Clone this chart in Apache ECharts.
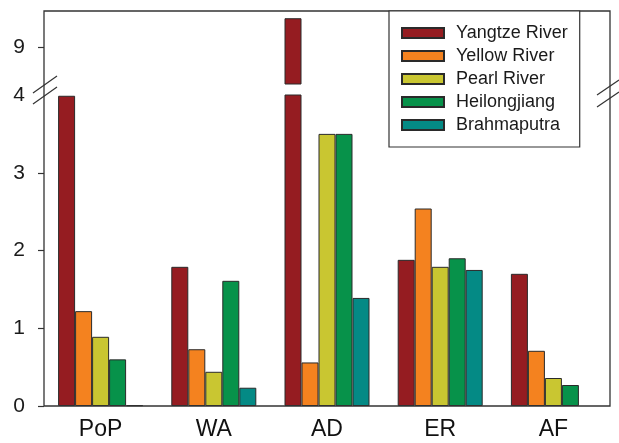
<!DOCTYPE html>
<html>
<head>
<meta charset="utf-8">
<script src="https://cdn.jsdelivr.net/npm/echarts@6/dist/echarts.min.js"></script>
<style>
  html, body { margin: 0; padding: 0; background: #fff; }
  #chart { width: 619px; height: 443px; }
</style>
</head>
<body>
<div id="chart"></div>
<script>
// data
const categories = ['PoP', 'WA', 'AD', 'ER', 'AF'];
const riverNames = ['Yangtze River', 'Yellow River', 'Pearl River', 'Heilongjiang', 'Brahmaputra'];
const yangtze = [3.99, 1.79, 9.37, 1.88, 1.70];
const yellowRiver = [1.22, 0.73, 0.56, 2.54, 0.71];
const pearl = [0.89, 0.44, 3.50, 1.79, 0.36];
const heilongjiang = [0.60, 1.61, 3.50, 1.90, 0.27];
const brahmaputra = [0.01, 0.235, 1.39, 1.75, null];
const lowerTicks = [0, 1, 2, 3, 4];
const upperTicks = [9];

const riverValues = [yangtze, yellowRiver, pearl, heilongjiang, brahmaputra];
const colors = ['#951c21', '#f4821f', '#c9c631', '#07924a', '#048a85'];

// layout (px)
const W = 619, H = 443;
const plotL = 44, plotR = 610, plotT = 11, plotB = 406;
const lowerTop = 95, upperBottom = 84, y9 = 47;
const pxPerUnit = (plotB - lowerTop) / 4;
const upperMin = 9 - (upperBottom - y9) / pxPerUnit;
const upperMax = 9 + (y9 - plotT) / pxPerUnit;

const font = 'Liberation Sans';
const ink = '#333';

const series = [];
riverValues.forEach(function (vals, i) {
  const style = { color: colors[i], borderColor: '#2a2a2a', borderWidth: 1 };
  series.push({
    name: riverNames[i], type: 'bar', xAxisIndex: 0, yAxisIndex: 0,
    barWidth: 17, barGap: '0%', clip: true, itemStyle: style,
    data: vals.map(v => v == null ? '-' : v)
  });
  series.push({
    name: riverNames[i], type: 'bar', xAxisIndex: 1, yAxisIndex: 1,
    barWidth: 17, barGap: '0%', clip: true, itemStyle: style,
    data: vals.map(v => (v != null && v > upperMin) ? v : '-')
  });
});

const chart = echarts.init(document.getElementById('chart'));
chart.setOption({
  animation: false,
  textStyle: { fontFamily: font },
  legend: {
    data: riverNames,
    orient: 'vertical',
    left: 389, top: plotT,
    padding: [13, 12, 13, 12],
    icon: 'rect',
    itemWidth: 42, itemHeight: 10, itemGap: 5,
    backgroundColor: '#fff',
    borderColor: ink, borderWidth: 1.2,
    textStyle: { fontSize: 18, lineHeight: 18, color: '#1a1a1a', fontFamily: font, padding: [0, 0, 0, 7] },
    z: 20
  },
  grid: [
    { left: plotL, right: W - plotR, top: lowerTop, bottom: H - plotB },
    { left: plotL, right: W - plotR, top: plotT, height: upperBottom - plotT }
  ],
  xAxis: [
    {
      type: 'category', gridIndex: 0, data: categories,
      axisLine: { show: false }, axisTick: { show: false },
      axisLabel: { fontSize: 23, margin: 12, color: '#111', fontFamily: font }
    },
    {
      type: 'category', gridIndex: 1, data: categories, show: false
    }
  ],
  yAxis: [
    {
      type: 'value', gridIndex: 0, min: 0, max: 4, interval: 1,
      splitLine: { show: false },
      axisLine: { show: false },
      axisTick: { show: true, length: 6, customValues: lowerTicks.slice(0, 4), lineStyle: { color: ink, width: 1.2 } },
      axisLabel: { fontSize: 21, margin: 19, color: '#1a1a1a', fontFamily: font, customValues: lowerTicks }
    },
    {
      type: 'value', gridIndex: 1, min: upperMin, max: upperMax,
      splitLine: { show: false },
      axisLine: { show: false },
      axisTick: { show: true, length: 6, customValues: upperTicks, lineStyle: { color: ink, width: 1.2 } },
      axisLabel: { fontSize: 21, margin: 19, color: '#1a1a1a', fontFamily: font, customValues: upperTicks }
    }
  ],
  graphic: [
    {
      type: 'rect', z: 10, silent: true,
      shape: { x: plotL, y: plotT, width: plotR - plotL, height: plotB - plotT },
      style: { fill: 'none', stroke: ink, lineWidth: 1.3 }
    },
    // break marks on left axis
    { type: 'line', z: 11, silent: true, shape: { x1: 33, y1: 93, x2: 57, y2: 76 }, style: { stroke: ink, lineWidth: 1.2 } },
    { type: 'line', z: 11, silent: true, shape: { x1: 33, y1: 104, x2: 57, y2: 87 }, style: { stroke: ink, lineWidth: 1.2 } },
    // break marks on right border
    { type: 'line', z: 11, silent: true, shape: { x1: 597, y1: 95, x2: 619, y2: 80 }, style: { stroke: ink, lineWidth: 1.2 } },
    { type: 'line', z: 11, silent: true, shape: { x1: 597, y1: 107, x2: 619, y2: 92 }, style: { stroke: ink, lineWidth: 1.2 } }
  ],
  series: series
});
</script>
</body>
</html>
